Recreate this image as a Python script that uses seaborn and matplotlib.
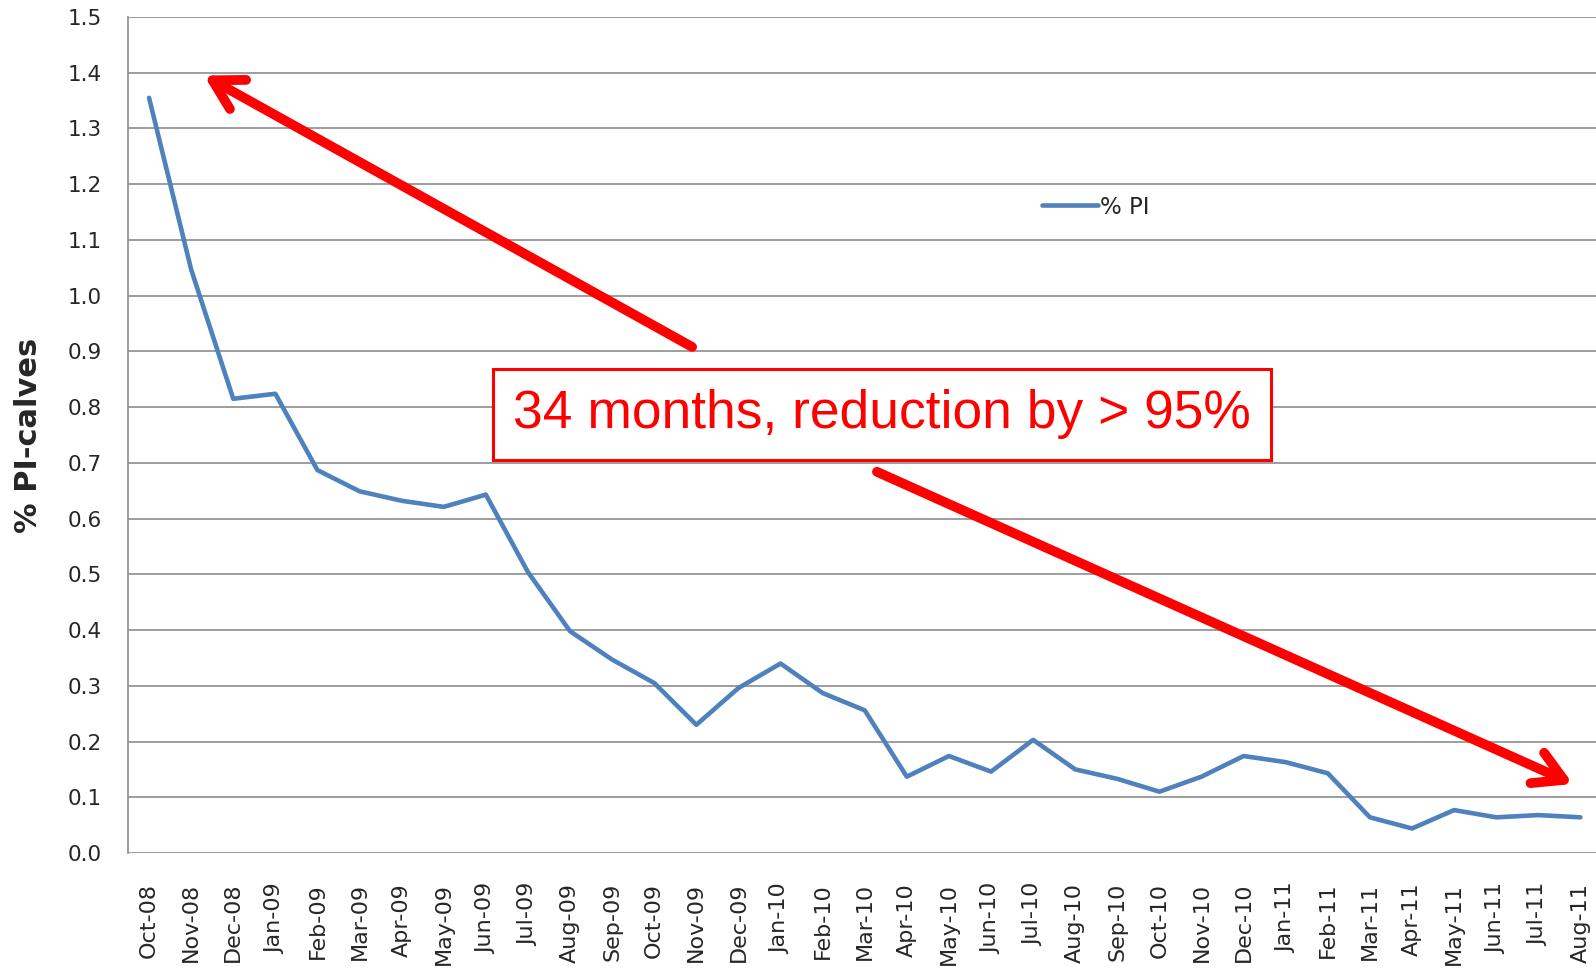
import numpy as np
import pandas as pd
import matplotlib
matplotlib.use("Agg")
import matplotlib.pyplot as plt
import seaborn as sns

# monthly share of PI calves
months = ["Oct-08", "Nov-08", "Dec-08", "Jan-09", "Feb-09", "Mar-09", "Apr-09", "May-09",
          "Jun-09", "Jul-09", "Aug-09", "Sep-09", "Oct-09", "Nov-09", "Dec-09", "Jan-10",
          "Feb-10", "Mar-10", "Apr-10", "May-10", "Jun-10", "Jul-10", "Aug-10", "Sep-10",
          "Oct-10", "Nov-10", "Dec-10", "Jan-11", "Feb-11", "Mar-11", "Apr-11", "May-11",
          "Jun-11", "Jul-11", "Aug-11"]
pct_pi = [1.355, 1.047, 0.815, 0.824, 0.687, 0.649, 0.632, 0.621,
          0.643, 0.504, 0.398, 0.347, 0.305, 0.230, 0.296, 0.340,
          0.287, 0.256, 0.137, 0.174, 0.146, 0.203, 0.150, 0.133,
          0.110, 0.137, 0.174, 0.163, 0.143, 0.064, 0.044, 0.077,
          0.064, 0.068, 0.064]
y_ticks = [0.0, 0.1, 0.2, 0.3, 0.4, 0.5, 0.6, 0.7, 0.8, 0.9, 1.0, 1.1, 1.2, 1.3, 1.4, 1.5]

df = pd.DataFrame({"month": months, "% PI": pct_pi})

sns.set_style("white")
plt.rcParams["font.family"] = ["DejaVu Sans"]

fig = plt.figure(figsize=(15.96, 9.75), dpi=100)
ax = fig.add_axes([128/1596, 122/975, 1 - 128/1596, 836/975])

sns.lineplot(data=df, x="month", y="% PI", ax=ax, color="#4f81bd", linewidth=3.3,
             sort=False, label="% PI")

ax.set_xlim(-0.5, 34.37)
ax.set_ylim(0, 1.5)
ax.set_yticks(y_ticks)
ax.set_yticklabels([f"{v:.1f}" for v in y_ticks], fontsize=15.5)
ax.set_xticks(range(len(months)))
ax.set_xticklabels(months, rotation=90, fontsize=16, va="top", ha="center")
ax.tick_params(axis="x", length=0, pad=21.5)
ax.tick_params(axis="y", length=0, pad=19)
ax.grid(axis="y", color="#8c8c8c", linewidth=1.2)
ax.set_axisbelow(True)
for s in ["top", "right", "bottom"]:
    ax.spines[s].set_visible(False)
ax.spines["left"].set_color("#8c8c8c")
ax.spines["left"].set_linewidth(1.2)
ax.set_xlabel("")
ax.set_ylabel("% PI-calves", fontsize=22, fontweight="bold")
ax.yaxis.set_label_coords(-0.058, 0.50)

ax.legend(loc="center left", bbox_to_anchor=(1042/1596, 1 - 207/975),
          bbox_transform=fig.transFigure, frameon=False, borderpad=0,
          borderaxespad=0, handletextpad=0.1, handlelength=2.45, fontsize=16.5)

# arrows and note
red = "#ff0000"
ax.annotate("", xy=(1.305, 1.395), xytext=(12.9, 0.908),
            arrowprops=dict(arrowstyle="->,head_length=1.05,head_width=0.6", color=red,
                            lw=7, shrinkA=0, shrinkB=0, mutation_scale=20))
ax.annotate("", xy=(33.82, 0.124), xytext=(17.29, 0.684),
            arrowprops=dict(arrowstyle="->,head_length=1.05,head_width=0.6", color=red,
                            lw=7, shrinkA=0, shrinkB=0, mutation_scale=20))
ax.text(17.41, 0.787, "34 months, reduction by > 95%", color=red, fontsize=38.4,
        family="Liberation Sans", ha="center", va="center",
        bbox=dict(boxstyle="square,pad=0.38", facecolor="white", edgecolor=red, linewidth=2.2))

fig.savefig("out.png", dpi=100)
